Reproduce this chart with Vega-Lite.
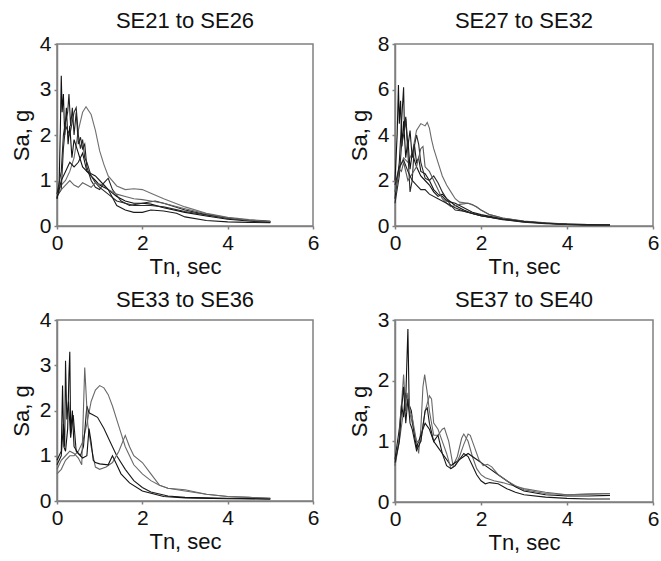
{
"$schema": "https://vega.github.io/schema/vega-lite/v6.json",
"background": "white",
"padding": {"left": 9, "top": 9, "right": 0, "bottom": 2},
"config": {
  "font": "Liberation Sans",
  "view": {"stroke": "#808080", "strokeWidth": 1.5},
  "axis": {"grid": false, "domain": true, "domainColor": "#808080", "domainWidth": 1.5, "labelFontSize": 21, "labelColor": "#111", "titleFontSize": 22, "titleFontWeight": "normal", "titleColor": "#111", "tickColor": "#808080", "tickWidth": 1.5, "tickSize": 3, "labelPadding": 3, "labelFlush": false},
  "axisX": {"titlePadding": 3},
  "axisY": {"titlePadding": 6},
  "title": {"fontSize": 22, "fontWeight": "normal", "color": "#111", "frame": "group", "anchor": "middle", "baseline": "alphabetic"},
  "line": {"strokeWidth": 1.1}
},
"datasets": {
"p1": [
{"s":"a","t":0,"v":0.7},{"s":"a","t":0.1,"v":0.9},{"s":"a","t":0.2,"v":1.0},{"s":"a","t":0.3,"v":1.2},{"s":"a","t":0.4,"v":1.5},{"s":"a","t":0.5,"v":2.1},{"s":"a","t":0.6,"v":2.5},{"s":"a","t":0.68,"v":2.62},{"s":"a","t":0.8,"v":2.45},{"s":"a","t":0.9,"v":2.1},{"s":"a","t":1.0,"v":1.65},{"s":"a","t":1.1,"v":1.35},{"s":"a","t":1.2,"v":1.1},{"s":"a","t":1.4,"v":0.88},{"s":"a","t":1.6,"v":0.8},{"s":"a","t":1.8,"v":0.82},{"s":"a","t":2.0,"v":0.8},{"s":"a","t":2.2,"v":0.72},{"s":"a","t":2.5,"v":0.6},{"s":"a","t":3,"v":0.42},{"s":"a","t":3.5,"v":0.28},{"s":"a","t":4,"v":0.19},{"s":"a","t":4.5,"v":0.14},{"s":"a","t":5,"v":0.11},
{"s":"b","t":0,"v":0.6},{"s":"b","t":0.05,"v":0.9},{"s":"b","t":0.08,"v":2.2},{"s":"b","t":0.1,"v":3.3},{"s":"b","t":0.12,"v":2.5},{"s":"b","t":0.15,"v":2.9},{"s":"b","t":0.18,"v":2.0},{"s":"b","t":0.22,"v":2.6},{"s":"b","t":0.26,"v":1.8},{"s":"b","t":0.3,"v":2.2},{"s":"b","t":0.35,"v":1.5},{"s":"b","t":0.4,"v":1.9},{"s":"b","t":0.5,"v":1.6},{"s":"b","t":0.6,"v":1.3},{"s":"b","t":0.7,"v":1.2},{"s":"b","t":0.8,"v":1.1},{"s":"b","t":0.9,"v":1.0},{"s":"b","t":1.0,"v":0.9},{"s":"b","t":1.2,"v":0.8},{"s":"b","t":1.4,"v":0.65},{"s":"b","t":1.6,"v":0.55},{"s":"b","t":1.8,"v":0.5},{"s":"b","t":2.0,"v":0.5},{"s":"b","t":2.2,"v":0.48},{"s":"b","t":2.5,"v":0.4},{"s":"b","t":3,"v":0.3},{"s":"b","t":3.5,"v":0.22},{"s":"b","t":4,"v":0.15},{"s":"b","t":4.5,"v":0.11},{"s":"b","t":5,"v":0.08},
{"s":"c","t":0,"v":0.7},{"s":"c","t":0.1,"v":1.2},{"s":"c","t":0.15,"v":2.0},{"s":"c","t":0.2,"v":2.3},{"s":"c","t":0.25,"v":2.5},{"s":"c","t":0.28,"v":2.9},{"s":"c","t":0.32,"v":2.2},{"s":"c","t":0.36,"v":2.6},{"s":"c","t":0.4,"v":2.0},{"s":"c","t":0.45,"v":2.5},{"s":"c","t":0.5,"v":1.8},{"s":"c","t":0.55,"v":1.95},{"s":"c","t":0.6,"v":1.7},{"s":"c","t":0.65,"v":1.8},{"s":"c","t":0.7,"v":1.3},{"s":"c","t":0.8,"v":1.0},{"s":"c","t":0.9,"v":0.85},{"s":"c","t":1.0,"v":0.8},{"s":"c","t":1.1,"v":0.95},{"s":"c","t":1.2,"v":1.05},{"s":"c","t":1.3,"v":0.8},{"s":"c","t":1.5,"v":0.55},{"s":"c","t":1.7,"v":0.45},{"s":"c","t":2.0,"v":0.5},{"s":"c","t":2.3,"v":0.55},{"s":"c","t":2.5,"v":0.5},{"s":"c","t":3,"v":0.35},{"s":"c","t":3.5,"v":0.25},{"s":"c","t":4,"v":0.17},{"s":"c","t":4.5,"v":0.12},{"s":"c","t":5,"v":0.1},
{"s":"d","t":0,"v":0.65},{"s":"d","t":0.1,"v":0.8},{"s":"d","t":0.15,"v":1.7},{"s":"d","t":0.2,"v":2.2},{"s":"d","t":0.3,"v":2.0},{"s":"d","t":0.4,"v":2.5},{"s":"d","t":0.45,"v":2.6},{"s":"d","t":0.5,"v":2.0},{"s":"d","t":0.55,"v":1.7},{"s":"d","t":0.6,"v":1.9},{"s":"d","t":0.65,"v":1.5},{"s":"d","t":0.7,"v":1.4},{"s":"d","t":0.8,"v":1.1},{"s":"d","t":0.9,"v":0.95},{"s":"d","t":1.0,"v":0.85},{"s":"d","t":1.2,"v":0.7},{"s":"d","t":1.4,"v":0.55},{"s":"d","t":1.6,"v":0.5},{"s":"d","t":1.8,"v":0.45},{"s":"d","t":2.0,"v":0.45},{"s":"d","t":2.2,"v":0.45},{"s":"d","t":2.5,"v":0.42},{"s":"d","t":3,"v":0.32},{"s":"d","t":3.5,"v":0.24},{"s":"d","t":4,"v":0.17},{"s":"d","t":4.5,"v":0.12},{"s":"d","t":5,"v":0.09},
{"s":"e","t":0,"v":0.7},{"s":"e","t":0.1,"v":0.8},{"s":"e","t":0.2,"v":0.9},{"s":"e","t":0.3,"v":1.0},{"s":"e","t":0.4,"v":0.9},{"s":"e","t":0.5,"v":0.85},{"s":"e","t":0.6,"v":0.95},{"s":"e","t":0.7,"v":0.9},{"s":"e","t":0.8,"v":0.85},{"s":"e","t":0.9,"v":0.95},{"s":"e","t":1.0,"v":0.92},{"s":"e","t":1.1,"v":0.9},{"s":"e","t":1.2,"v":0.8},{"s":"e","t":1.4,"v":0.7},{"s":"e","t":1.6,"v":0.65},{"s":"e","t":1.8,"v":0.6},{"s":"e","t":2.0,"v":0.58},{"s":"e","t":2.2,"v":0.55},{"s":"e","t":2.5,"v":0.5},{"s":"e","t":3,"v":0.38},{"s":"e","t":3.5,"v":0.27},{"s":"e","t":4,"v":0.18},{"s":"e","t":4.5,"v":0.13},{"s":"e","t":5,"v":0.1},
{"s":"f","t":0,"v":0.6},{"s":"f","t":0.1,"v":1.0},{"s":"f","t":0.2,"v":1.2},{"s":"f","t":0.3,"v":1.4},{"s":"f","t":0.4,"v":1.3},{"s":"f","t":0.5,"v":1.4},{"s":"f","t":0.6,"v":1.6},{"s":"f","t":0.7,"v":1.2},{"s":"f","t":0.8,"v":1.15},{"s":"f","t":0.9,"v":1.1},{"s":"f","t":1.0,"v":1.0},{"s":"f","t":1.2,"v":0.8},{"s":"f","t":1.4,"v":0.45},{"s":"f","t":1.6,"v":0.35},{"s":"f","t":1.8,"v":0.3},{"s":"f","t":2.0,"v":0.3},{"s":"f","t":2.2,"v":0.35},{"s":"f","t":2.5,"v":0.33},{"s":"f","t":2.8,"v":0.28},{"s":"f","t":3,"v":0.2},{"s":"f","t":3.5,"v":0.12},{"s":"f","t":4,"v":0.09},{"s":"f","t":4.5,"v":0.08},{"s":"f","t":5,"v":0.07}
],
"p2": [
{"s":"a","t":0,"v":1.5},{"s":"a","t":0.1,"v":2.5},{"s":"a","t":0.2,"v":3.0},{"s":"a","t":0.3,"v":2.8},{"s":"a","t":0.4,"v":3.2},{"s":"a","t":0.5,"v":4.2},{"s":"a","t":0.6,"v":4.5},{"s":"a","t":0.7,"v":4.4},{"s":"a","t":0.75,"v":4.55},{"s":"a","t":0.8,"v":4.3},{"s":"a","t":0.85,"v":3.8},{"s":"a","t":0.9,"v":3.4},{"s":"a","t":1.0,"v":2.8},{"s":"a","t":1.1,"v":2.2},{"s":"a","t":1.2,"v":1.8},{"s":"a","t":1.3,"v":1.5},{"s":"a","t":1.4,"v":1.2},{"s":"a","t":1.5,"v":1.05},{"s":"a","t":1.7,"v":1.0},{"s":"a","t":1.9,"v":0.85},{"s":"a","t":2.0,"v":0.7},{"s":"a","t":2.2,"v":0.5},{"s":"a","t":2.5,"v":0.35},{"s":"a","t":3,"v":0.2},{"s":"a","t":3.5,"v":0.12},{"s":"a","t":4,"v":0.08},{"s":"a","t":4.5,"v":0.06},{"s":"a","t":5,"v":0.05},
{"s":"b","t":0,"v":2.0},{"s":"b","t":0.05,"v":4.0},{"s":"b","t":0.08,"v":6.2},{"s":"b","t":0.1,"v":4.5},{"s":"b","t":0.13,"v":5.5},{"s":"b","t":0.16,"v":3.5},{"s":"b","t":0.2,"v":4.6},{"s":"b","t":0.25,"v":3.0},{"s":"b","t":0.3,"v":3.8},{"s":"b","t":0.35,"v":2.5},{"s":"b","t":0.4,"v":3.2},{"s":"b","t":0.5,"v":2.6},{"s":"b","t":0.6,"v":2.2},{"s":"b","t":0.7,"v":2.0},{"s":"b","t":0.8,"v":1.8},{"s":"b","t":0.9,"v":1.5},{"s":"b","t":1.0,"v":1.3},{"s":"b","t":1.1,"v":1.4},{"s":"b","t":1.2,"v":1.2},{"s":"b","t":1.4,"v":0.9},{"s":"b","t":1.6,"v":0.7},{"s":"b","t":1.8,"v":0.55},{"s":"b","t":2.0,"v":0.45},{"s":"b","t":2.5,"v":0.3},{"s":"b","t":3,"v":0.18},{"s":"b","t":3.5,"v":0.12},{"s":"b","t":4,"v":0.07},{"s":"b","t":4.5,"v":0.05},{"s":"b","t":5,"v":0.04},
{"s":"c","t":0,"v":1.2},{"s":"c","t":0.05,"v":2.0},{"s":"c","t":0.1,"v":2.8},{"s":"c","t":0.15,"v":4.5},{"s":"c","t":0.2,"v":6.1},{"s":"c","t":0.22,"v":4.2},{"s":"c","t":0.25,"v":4.8},{"s":"c","t":0.3,"v":3.5},{"s":"c","t":0.35,"v":4.2},{"s":"c","t":0.4,"v":3.0},{"s":"c","t":0.45,"v":3.6},{"s":"c","t":0.5,"v":2.8},{"s":"c","t":0.55,"v":3.0},{"s":"c","t":0.6,"v":2.4},{"s":"c","t":0.7,"v":2.3},{"s":"c","t":0.8,"v":2.0},{"s":"c","t":0.9,"v":1.6},{"s":"c","t":1.0,"v":1.4},{"s":"c","t":1.1,"v":1.3},{"s":"c","t":1.2,"v":1.1},{"s":"c","t":1.4,"v":1.0},{"s":"c","t":1.6,"v":0.8},{"s":"c","t":1.8,"v":0.6},{"s":"c","t":2.0,"v":0.5},{"s":"c","t":2.5,"v":0.32},{"s":"c","t":3,"v":0.2},{"s":"c","t":3.5,"v":0.13},{"s":"c","t":4,"v":0.08},{"s":"c","t":4.5,"v":0.06},{"s":"c","t":5,"v":0.05},
{"s":"d","t":0,"v":1.0},{"s":"d","t":0.1,"v":2.2},{"s":"d","t":0.15,"v":3.5},{"s":"d","t":0.2,"v":4.0},{"s":"d","t":0.25,"v":4.7},{"s":"d","t":0.3,"v":3.2},{"s":"d","t":0.35,"v":1.5},{"s":"d","t":0.4,"v":2.0},{"s":"d","t":0.45,"v":3.5},{"s":"d","t":0.5,"v":4.0},{"s":"d","t":0.55,"v":3.6},{"s":"d","t":0.6,"v":2.8},{"s":"d","t":0.7,"v":2.1},{"s":"d","t":0.8,"v":2.0},{"s":"d","t":0.9,"v":2.2},{"s":"d","t":1.0,"v":1.9},{"s":"d","t":1.1,"v":1.5},{"s":"d","t":1.2,"v":1.2},{"s":"d","t":1.3,"v":0.9},{"s":"d","t":1.4,"v":0.7},{"s":"d","t":1.6,"v":0.65},{"s":"d","t":1.8,"v":0.55},{"s":"d","t":2.0,"v":0.45},{"s":"d","t":2.5,"v":0.28},{"s":"d","t":3,"v":0.17},{"s":"d","t":3.5,"v":0.1},{"s":"d","t":4,"v":0.07},{"s":"d","t":4.5,"v":0.05},{"s":"d","t":5,"v":0.04},
{"s":"e","t":0,"v":1.5},{"s":"e","t":0.1,"v":2.5},{"s":"e","t":0.15,"v":2.4},{"s":"e","t":0.2,"v":2.8},{"s":"e","t":0.3,"v":2.0},{"s":"e","t":0.4,"v":2.3},{"s":"e","t":0.5,"v":2.6},{"s":"e","t":0.6,"v":3.4},{"s":"e","t":0.65,"v":3.5},{"s":"e","t":0.7,"v":2.6},{"s":"e","t":0.8,"v":2.4},{"s":"e","t":0.9,"v":2.0},{"s":"e","t":1.0,"v":1.6},{"s":"e","t":1.1,"v":1.2},{"s":"e","t":1.2,"v":1.0},{"s":"e","t":1.3,"v":0.85},{"s":"e","t":1.5,"v":0.95},{"s":"e","t":1.7,"v":1.0},{"s":"e","t":1.8,"v":0.95},{"s":"e","t":2.0,"v":0.7},{"s":"e","t":2.2,"v":0.5},{"s":"e","t":2.5,"v":0.35},{"s":"e","t":3,"v":0.22},{"s":"e","t":3.5,"v":0.14},{"s":"e","t":4,"v":0.09},{"s":"e","t":4.5,"v":0.06},{"s":"e","t":5,"v":0.05},
{"s":"f","t":0,"v":1.8},{"s":"f","t":0.1,"v":2.6},{"s":"f","t":0.2,"v":2.9},{"s":"f","t":0.3,"v":2.4},{"s":"f","t":0.4,"v":2.0},{"s":"f","t":0.5,"v":1.8},{"s":"f","t":0.6,"v":1.6},{"s":"f","t":0.7,"v":1.6},{"s":"f","t":0.8,"v":1.4},{"s":"f","t":1.0,"v":1.2},{"s":"f","t":1.2,"v":1.0},{"s":"f","t":1.4,"v":0.8},{"s":"f","t":1.6,"v":0.65},{"s":"f","t":1.8,"v":0.55},{"s":"f","t":2.0,"v":0.45},{"s":"f","t":2.5,"v":0.3},{"s":"f","t":3,"v":0.2},{"s":"f","t":3.5,"v":0.12},{"s":"f","t":4,"v":0.08},{"s":"f","t":4.5,"v":0.06},{"s":"f","t":5,"v":0.05}
],
"p3": [
{"s":"a","t":0,"v":0.6},{"s":"a","t":0.1,"v":0.7},{"s":"a","t":0.2,"v":0.9},{"s":"a","t":0.3,"v":1.0},{"s":"a","t":0.4,"v":1.0},{"s":"a","t":0.5,"v":1.1},{"s":"a","t":0.6,"v":1.3},{"s":"a","t":0.7,"v":1.7},{"s":"a","t":0.8,"v":2.2},{"s":"a","t":0.9,"v":2.45},{"s":"a","t":1.0,"v":2.55},{"s":"a","t":1.1,"v":2.5},{"s":"a","t":1.2,"v":2.35},{"s":"a","t":1.3,"v":2.1},{"s":"a","t":1.4,"v":1.8},{"s":"a","t":1.5,"v":1.5},{"s":"a","t":1.6,"v":1.2},{"s":"a","t":1.7,"v":1.0},{"s":"a","t":1.8,"v":0.8},{"s":"a","t":2.0,"v":0.6},{"s":"a","t":2.2,"v":0.45},{"s":"a","t":2.4,"v":0.35},{"s":"a","t":2.6,"v":0.28},{"s":"a","t":3.0,"v":0.22},{"s":"a","t":3.5,"v":0.15},{"s":"a","t":4,"v":0.1},{"s":"a","t":4.5,"v":0.08},{"s":"a","t":5,"v":0.06},
{"s":"b","t":0,"v":0.8},{"s":"b","t":0.1,"v":1.0},{"s":"b","t":0.15,"v":1.7},{"s":"b","t":0.18,"v":1.2},{"s":"b","t":0.2,"v":3.1},{"s":"b","t":0.23,"v":1.8},{"s":"b","t":0.27,"v":2.2},{"s":"b","t":0.32,"v":1.4},{"s":"b","t":0.38,"v":1.9},{"s":"b","t":0.45,"v":1.1},{"s":"b","t":0.55,"v":1.0},{"s":"b","t":0.62,"v":1.2},{"s":"b","t":0.7,"v":2.1},{"s":"b","t":0.75,"v":1.95},{"s":"b","t":0.85,"v":1.9},{"s":"b","t":0.95,"v":1.85},{"s":"b","t":1.1,"v":1.6},{"s":"b","t":1.25,"v":1.3},{"s":"b","t":1.4,"v":1.0},{"s":"b","t":1.6,"v":0.7},{"s":"b","t":1.8,"v":0.45},{"s":"b","t":2.0,"v":0.3},{"s":"b","t":2.2,"v":0.2},{"s":"b","t":2.6,"v":0.11},{"s":"b","t":3,"v":0.08},{"s":"b","t":3.5,"v":0.07},{"s":"b","t":4,"v":0.06},{"s":"b","t":5,"v":0.05},
{"s":"c","t":0,"v":0.7},{"s":"c","t":0.1,"v":0.9},{"s":"c","t":0.2,"v":1.0},{"s":"c","t":0.3,"v":1.1},{"s":"c","t":0.4,"v":1.05},{"s":"c","t":0.5,"v":0.95},{"s":"c","t":0.58,"v":0.8},{"s":"c","t":0.65,"v":2.95},{"s":"c","t":0.72,"v":1.7},{"s":"c","t":0.8,"v":1.2},{"s":"c","t":0.9,"v":0.75},{"s":"c","t":1.0,"v":0.7},{"s":"c","t":1.15,"v":0.75},{"s":"c","t":1.3,"v":0.85},{"s":"c","t":1.45,"v":1.1},{"s":"c","t":1.6,"v":1.45},{"s":"c","t":1.7,"v":1.2},{"s":"c","t":1.8,"v":1.0},{"s":"c","t":2.0,"v":0.85},{"s":"c","t":2.2,"v":0.6},{"s":"c","t":2.4,"v":0.35},{"s":"c","t":2.6,"v":0.28},{"s":"c","t":3.0,"v":0.25},{"s":"c","t":3.5,"v":0.15},{"s":"c","t":4,"v":0.1},{"s":"c","t":4.5,"v":0.08},{"s":"c","t":5,"v":0.06},
{"s":"d","t":0,"v":0.9},{"s":"d","t":0.1,"v":1.1},{"s":"d","t":0.13,"v":2.55},{"s":"d","t":0.16,"v":1.2},{"s":"d","t":0.2,"v":1.1},{"s":"d","t":0.25,"v":1.6},{"s":"d","t":0.28,"v":2.8},{"s":"d","t":0.3,"v":3.3},{"s":"d","t":0.32,"v":1.5},{"s":"d","t":0.36,"v":2.0},{"s":"d","t":0.4,"v":1.2},{"s":"d","t":0.5,"v":1.05},{"s":"d","t":0.6,"v":0.95},{"s":"d","t":0.7,"v":1.0},{"s":"d","t":0.75,"v":1.6},{"s":"d","t":0.8,"v":1.3},{"s":"d","t":0.85,"v":0.9},{"s":"d","t":0.9,"v":0.85},{"s":"d","t":1.0,"v":0.82},{"s":"d","t":1.2,"v":0.8},{"s":"d","t":1.3,"v":1.0},{"s":"d","t":1.4,"v":0.8},{"s":"d","t":1.5,"v":0.6},{"s":"d","t":1.7,"v":0.4},{"s":"d","t":2.0,"v":0.22},{"s":"d","t":2.5,"v":0.1},{"s":"d","t":3,"v":0.07},{"s":"d","t":4,"v":0.05},{"s":"d","t":5,"v":0.04}
],
"p4": [
{"s":"a","t":0,"v":0.6},{"s":"a","t":0.1,"v":1.0},{"s":"a","t":0.2,"v":1.5},{"s":"a","t":0.25,"v":1.8},{"s":"a","t":0.3,"v":1.6},{"s":"a","t":0.4,"v":1.3},{"s":"a","t":0.5,"v":1.0},{"s":"a","t":0.55,"v":0.8},{"s":"a","t":0.6,"v":1.2},{"s":"a","t":0.65,"v":1.9},{"s":"a","t":0.69,"v":2.1},{"s":"a","t":0.75,"v":1.8},{"s":"a","t":0.8,"v":1.5},{"s":"a","t":0.9,"v":1.1},{"s":"a","t":1.0,"v":1.1},{"s":"a","t":1.1,"v":1.2},{"s":"a","t":1.15,"v":1.22},{"s":"a","t":1.25,"v":1.0},{"s":"a","t":1.35,"v":0.6},{"s":"a","t":1.45,"v":0.75},{"s":"a","t":1.55,"v":1.05},{"s":"a","t":1.6,"v":1.12},{"s":"a","t":1.7,"v":1.0},{"s":"a","t":1.8,"v":0.75},{"s":"a","t":1.9,"v":0.55},{"s":"a","t":2.0,"v":0.45},{"s":"a","t":2.1,"v":0.4},{"s":"a","t":2.3,"v":0.35},{"s":"a","t":2.5,"v":0.32},{"s":"a","t":2.7,"v":0.28},{"s":"a","t":3,"v":0.22},{"s":"a","t":3.5,"v":0.16},{"s":"a","t":4,"v":0.12},{"s":"a","t":4.5,"v":0.13},{"s":"a","t":5,"v":0.14},
{"s":"b","t":0,"v":0.7},{"s":"b","t":0.1,"v":1.2},{"s":"b","t":0.15,"v":1.6},{"s":"b","t":0.2,"v":1.4},{"s":"b","t":0.25,"v":1.7},{"s":"b","t":0.3,"v":2.85},{"s":"b","t":0.33,"v":1.6},{"s":"b","t":0.38,"v":1.5},{"s":"b","t":0.45,"v":1.1},{"s":"b","t":0.5,"v":0.9},{"s":"b","t":0.6,"v":1.1},{"s":"b","t":0.7,"v":1.3},{"s":"b","t":0.8,"v":1.2},{"s":"b","t":0.9,"v":1.0},{"s":"b","t":1.0,"v":0.9},{"s":"b","t":1.1,"v":0.8},{"s":"b","t":1.2,"v":0.7},{"s":"b","t":1.3,"v":0.6},{"s":"b","t":1.4,"v":0.65},{"s":"b","t":1.5,"v":0.7},{"s":"b","t":1.6,"v":0.75},{"s":"b","t":1.7,"v":0.8},{"s":"b","t":1.8,"v":0.75},{"s":"b","t":1.9,"v":0.7},{"s":"b","t":2.0,"v":0.65},{"s":"b","t":2.1,"v":0.6},{"s":"b","t":2.2,"v":0.55},{"s":"b","t":2.4,"v":0.45},{"s":"b","t":2.6,"v":0.35},{"s":"b","t":2.8,"v":0.25},{"s":"b","t":3,"v":0.18},{"s":"b","t":3.5,"v":0.12},{"s":"b","t":4,"v":0.1},{"s":"b","t":4.5,"v":0.1},{"s":"b","t":5,"v":0.11},
{"s":"c","t":0,"v":0.6},{"s":"c","t":0.1,"v":1.1},{"s":"c","t":0.2,"v":2.1},{"s":"c","t":0.25,"v":1.5},{"s":"c","t":0.3,"v":1.8},{"s":"c","t":0.35,"v":1.5},{"s":"c","t":0.4,"v":1.4},{"s":"c","t":0.5,"v":1.0},{"s":"c","t":0.6,"v":1.0},{"s":"c","t":0.7,"v":1.5},{"s":"c","t":0.8,"v":1.75},{"s":"c","t":0.85,"v":1.7},{"s":"c","t":0.9,"v":1.3},{"s":"c","t":1.0,"v":1.2},{"s":"c","t":1.1,"v":1.0},{"s":"c","t":1.2,"v":0.8},{"s":"c","t":1.3,"v":0.55},{"s":"c","t":1.4,"v":0.6},{"s":"c","t":1.5,"v":0.75},{"s":"c","t":1.6,"v":0.95},{"s":"c","t":1.7,"v":1.12},{"s":"c","t":1.75,"v":1.1},{"s":"c","t":1.85,"v":0.9},{"s":"c","t":1.95,"v":0.7},{"s":"c","t":2.05,"v":0.6},{"s":"c","t":2.15,"v":0.62},{"s":"c","t":2.25,"v":0.58},{"s":"c","t":2.4,"v":0.45},{"s":"c","t":2.6,"v":0.35},{"s":"c","t":2.8,"v":0.27},{"s":"c","t":3,"v":0.2},{"s":"c","t":3.5,"v":0.14},{"s":"c","t":4,"v":0.12},{"s":"c","t":4.5,"v":0.13},{"s":"c","t":5,"v":0.14},
{"s":"d","t":0,"v":0.65},{"s":"d","t":0.1,"v":1.0},{"s":"d","t":0.15,"v":1.5},{"s":"d","t":0.2,"v":1.9},{"s":"d","t":0.25,"v":1.3},{"s":"d","t":0.3,"v":1.7},{"s":"d","t":0.35,"v":1.3},{"s":"d","t":0.4,"v":1.2},{"s":"d","t":0.5,"v":0.85},{"s":"d","t":0.6,"v":1.0},{"s":"d","t":0.7,"v":1.5},{"s":"d","t":0.75,"v":1.55},{"s":"d","t":0.8,"v":1.3},{"s":"d","t":0.9,"v":1.0},{"s":"d","t":1.0,"v":1.1},{"s":"d","t":1.1,"v":0.8},{"s":"d","t":1.2,"v":0.6},{"s":"d","t":1.3,"v":0.55},{"s":"d","t":1.4,"v":0.6},{"s":"d","t":1.5,"v":0.7},{"s":"d","t":1.6,"v":0.8},{"s":"d","t":1.7,"v":0.75},{"s":"d","t":1.8,"v":0.6},{"s":"d","t":1.9,"v":0.45},{"s":"d","t":2.0,"v":0.35},{"s":"d","t":2.1,"v":0.3},{"s":"d","t":2.2,"v":0.32},{"s":"d","t":2.4,"v":0.3},{"s":"d","t":2.6,"v":0.22},{"s":"d","t":2.8,"v":0.16},{"s":"d","t":3,"v":0.12},{"s":"d","t":3.5,"v":0.08},{"s":"d","t":4,"v":0.06},{"s":"d","t":4.5,"v":0.05},{"s":"d","t":5,"v":0.05}
]
},
"columns": 2,
"spacing": {"row": 10, "column": 27},
"resolve": {"scale": {"color": "independent"}},
"concat": [
{"data": {"name": "p1"}, "title": {"text": "SE21 to SE26", "offset": 0}, "width": 256, "height": 182,
 "mark": {"type": "line"},
 "encoding": {
  "x": {"field": "t", "type": "quantitative", "scale": {"domain": [0, 6], "nice": false}, "axis": {"values": [0, 2, 4, 6], "title": "Tn, sec"}},
  "y": {"field": "v", "type": "quantitative", "scale": {"domain": [0, 4], "nice": false}, "axis": {"values": [0, 1, 2, 3, 4], "title": "Sa, g"}},
  "color": {"field": "s", "type": "nominal", "legend": null, "scale": {"domain": ["a","b","c","d","e","f"], "range": ["#707070","#111111","#222222","#2a2a2a","#666666","#1a1a1a"]}}
 }},
{"data": {"name": "p2"}, "title": {"text": "SE27 to SE32", "offset": 0}, "width": 258, "height": 182,
 "mark": {"type": "line"},
 "encoding": {
  "x": {"field": "t", "type": "quantitative", "scale": {"domain": [0, 6], "nice": false}, "axis": {"values": [0, 2, 4, 6], "title": "Tn, sec"}},
  "y": {"field": "v", "type": "quantitative", "scale": {"domain": [0, 8], "nice": false}, "axis": {"values": [0, 2, 4, 6, 8], "title": "Sa, g"}},
  "color": {"field": "s", "type": "nominal", "legend": null, "scale": {"domain": ["a","b","c","d","e","f"], "range": ["#6a6a6a","#111111","#1a1a1a","#2a2a2a","#5a5a5a","#222222"]}}
 }},
{"data": {"name": "p3"}, "title": {"text": "SE33 to SE36", "offset": -3}, "width": 256, "height": 181,
 "mark": {"type": "line"},
 "encoding": {
  "x": {"field": "t", "type": "quantitative", "scale": {"domain": [0, 6], "nice": false}, "axis": {"values": [0, 2, 4, 6], "title": "Tn, sec"}},
  "y": {"field": "v", "type": "quantitative", "scale": {"domain": [0, 4], "nice": false}, "axis": {"values": [0, 1, 2, 3, 4], "title": "Sa, g"}},
  "color": {"field": "s", "type": "nominal", "legend": null, "scale": {"domain": ["a","b","c","d"], "range": ["#6a6a6a","#1a1a1a","#666666","#111111"]}}
 }},
{"data": {"name": "p4"}, "title": {"text": "SE37 to SE40", "offset": -3}, "width": 258, "height": 182,
 "mark": {"type": "line"},
 "encoding": {
  "x": {"field": "t", "type": "quantitative", "scale": {"domain": [0, 6], "nice": false}, "axis": {"values": [0, 2, 4, 6], "title": "Tn, sec"}},
  "y": {"field": "v", "type": "quantitative", "scale": {"domain": [0, 3], "nice": false}, "axis": {"values": [0, 1, 2, 3], "title": "Sa, g"}},
  "color": {"field": "s", "type": "nominal", "legend": null, "scale": {"domain": ["a","b","c","d"], "range": ["#666666","#111111","#6a6a6a","#1a1a1a"]}}
 }}
]
}
